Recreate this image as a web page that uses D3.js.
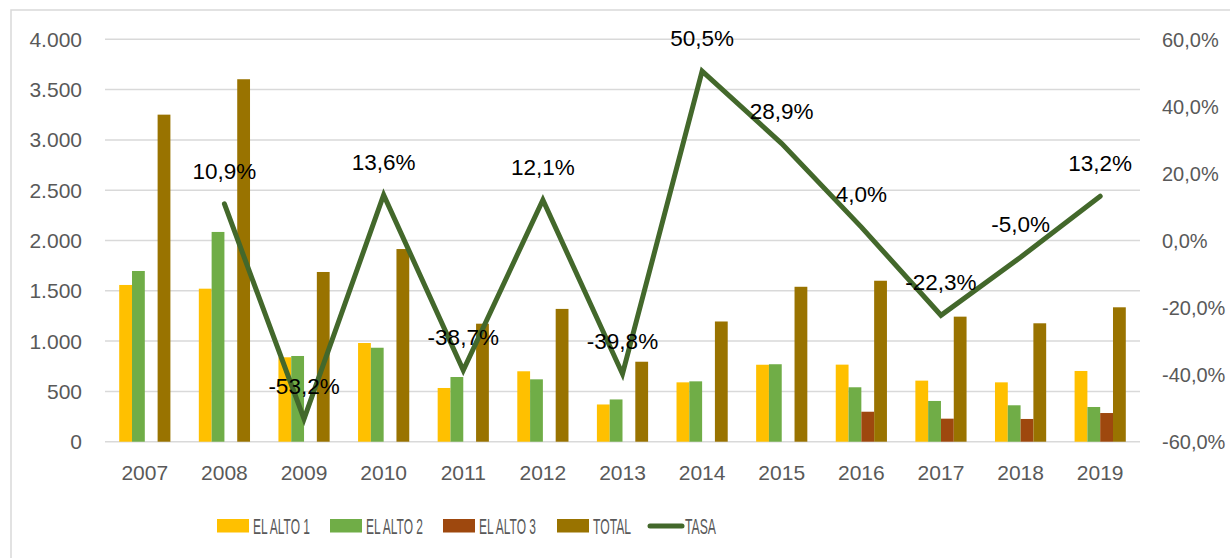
<!DOCTYPE html>
<html>
<head>
<meta charset="utf-8">
<script src="https://cdn.jsdelivr.net/npm/d3@7"></script>
<style>
  body { margin: 0; background: #fff; }
  svg text { font-family: "Liberation Sans", Arial, sans-serif; }
</style>
</head>
<body>
<div id="chart"></div>
<script>
// data
var years = ["2007","2008","2009","2010","2011","2012","2013","2014","2015","2016","2017","2018","2019"];
var elAlto1 = [1558, 1521, 839, 981, 534, 700, 370, 590, 765, 766, 607, 590, 703];
var elAlto2 = [1697, 2085, 852, 934, 643, 620, 420, 600, 770, 541, 405, 362, 345];
var elAlto3 = [0, 0, 0, 0, 0, 0, 0, 0, 0, 298, 229, 226, 285];
var total = [3251, 3603, 1687, 1915, 1173, 1320, 795, 1195, 1540, 1600, 1243, 1177, 1336];
var tasa = [null, 10.9, -53.2, 13.6, -38.7, 12.1, -39.8, 50.5, 28.9, 4.0, -22.3, -5.0, 13.2];
var leftTicks = [0, 500, 1000, 1500, 2000, 2500, 3000, 3500, 4000];
var rightTicks = [-60, -40, -20, 0, 20, 40, 60];

var seriesNames = ["EL ALTO 1", "EL ALTO 2", "EL ALTO 3", "TOTAL"];
var seriesColors = ["#ffc000", "#70ad47", "#9e480e", "#997300"];
var lineColor = "#43682b";

var svgWidth = 1230, svgHeight = 558;
var plot = { left: 105, right: 1140, top: 39.3, bottom: 441.7 };

var svg = d3.select("#chart").append("svg")
  .attr("width", svgWidth)
  .attr("height", svgHeight);

// chart border
svg.append("rect")
  .attr("x", 11).attr("y", 10)
  .attr("width", 1240).attr("height", 560)
  .attr("fill", "none")
  .attr("stroke", "#d9d9d9")
  .attr("stroke-width", 1.5);

var x = d3.scaleBand().domain(years).range([plot.left, plot.right]).padding(0);
var yLeft = d3.scaleLinear().domain([0, 4000]).range([plot.bottom, plot.top]);
var yRight = d3.scaleLinear().domain([-60, 60]).range([plot.bottom, plot.top]);

// gridlines
svg.append("g").selectAll("line")
  .data(leftTicks)
  .enter().append("line")
  .attr("x1", plot.left).attr("x2", plot.right)
  .attr("y1", d => yLeft(d)).attr("y2", d => yLeft(d))
  .attr("stroke", "#d9d9d9")
  .attr("stroke-width", 1.5);

// left axis labels
var fmtLeft = d => d3.format(",")(d).replace(/,/g, ".");
svg.append("g").selectAll("text")
  .data(leftTicks)
  .enter().append("text")
  .attr("x", 82)
  .attr("y", d => yLeft(d))
  .attr("dy", "0.36em")
  .attr("text-anchor", "end")
  .attr("font-size", 21)
  .attr("fill", "#595959")
  .text(fmtLeft);

// right axis labels
svg.append("g").selectAll("text")
  .data(rightTicks)
  .enter().append("text")
  .attr("x", 1162)
  .attr("y", d => yRight(d))
  .attr("dy", "0.36em")
  .attr("font-size", 20)
  .attr("fill", "#595959")
  .text(d => d3.format(".1f")(d).replace(".", ",").replace("−", "-") + "%");

// x labels
svg.append("g").selectAll("text")
  .data(years)
  .enter().append("text")
  .attr("x", d => x(d) + x.bandwidth() / 2)
  .attr("y", 480)
  .attr("text-anchor", "middle")
  .attr("font-size", 21)
  .attr("fill", "#595959")
  .text(d => d);

// bars
var allSeries = [elAlto1, elAlto2, elAlto3, total];
var barW = 12.8;
var groupW = barW * 4;
allSeries.forEach(function(vals, si) {
  svg.append("g").selectAll("rect")
    .data(vals)
    .enter().append("rect")
    .attr("x", (d, i) => x(years[i]) + x.bandwidth() / 2 - groupW / 2 + si * barW)
    .attr("y", d => yLeft(d))
    .attr("width", barW)
    .attr("height", d => yLeft(0) - yLeft(d))
    .attr("fill", seriesColors[si]);
});

// TASA line
var pts = tasa.map((d, i) => ({ year: years[i], v: d })).filter(d => d.v !== null);
var line = d3.line()
  .x(d => x(d.year) + x.bandwidth() / 2)
  .y(d => yRight(d.v));
svg.append("path")
  .datum(pts)
  .attr("d", line)
  .attr("fill", "none")
  .attr("stroke", lineColor)
  .attr("stroke-width", 5)
  .attr("stroke-linejoin", "miter")
  .attr("stroke-linecap", "round");

// data labels
svg.append("g").selectAll("text")
  .data(pts)
  .enter().append("text")
  .attr("x", d => x(d.year) + x.bandwidth() / 2)
  .attr("y", d => yRight(d.v) - 25)
  .attr("text-anchor", "middle")
  .attr("font-size", 22.5)
  .attr("fill", "#000")
  .text(d => d3.format(".1f")(d.v).replace(".", ",").replace("−", "-") + "%");

// legend
var legendItems = [
  { name: seriesNames[0], color: seriesColors[0], x: 217, w: 57 },
  { name: seriesNames[1], color: seriesColors[1], x: 330, w: 57 },
  { name: seriesNames[2], color: seriesColors[2], x: 443, w: 57 },
  { name: seriesNames[3], color: seriesColors[3], x: 557, w: 38 }
];
var legend = svg.append("g");
legendItems.forEach(function(it) {
  legend.append("rect")
    .attr("x", it.x).attr("y", 519)
    .attr("width", 32).attr("height", 13.5)
    .attr("fill", it.color);
  legend.append("text")
    .attr("x", it.x + 36).attr("y", 534)
    .attr("font-size", 22)
    .attr("fill", "#595959")
    .attr("textLength", it.w)
    .attr("lengthAdjust", "spacingAndGlyphs")
    .text(it.name);
});
legend.append("line")
  .attr("x1", 650).attr("x2", 682)
  .attr("y1", 526).attr("y2", 526)
  .attr("stroke", lineColor)
  .attr("stroke-width", 5)
  .attr("stroke-linecap", "round");
legend.append("text")
  .attr("x", 685).attr("y", 534)
  .attr("font-size", 22)
  .attr("fill", "#595959")
  .attr("textLength", 31)
  .attr("lengthAdjust", "spacingAndGlyphs")
  .text("TASA");
</script>
</body>
</html>
